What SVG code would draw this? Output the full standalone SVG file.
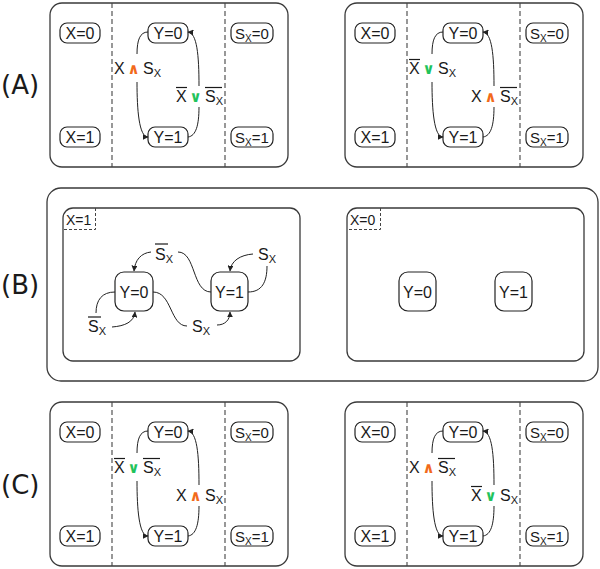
<svg xmlns="http://www.w3.org/2000/svg" width="600" height="569" viewBox="0 0 600 569">
<defs>
<style>
.frame{fill:#fff;stroke:#3a3a3a;stroke-width:1.3}
.node rect{fill:#fff;stroke:#222;stroke-width:1.2}
.t{font-family:"Liberation Sans",Arial,sans-serif;font-size:16px;fill:#1a1a1a}
.ts{font-family:"Liberation Sans",Arial,sans-serif;font-size:15px;fill:#1a1a1a}
.sub{font-size:11px}
.sub2{font-size:10px}
.dash{stroke:#444;stroke-width:1.1;stroke-dasharray:5 3;fill:none}
.dash2{stroke:#444;stroke-width:1;stroke-dasharray:3 2;fill:none}
.edge{fill:none;stroke:#222;stroke-width:1}
.ov{stroke:#1a1a1a;stroke-width:1.2}
.and{fill:#f26a1b;font-family:"DejaVu Sans",sans-serif;font-weight:bold;font-size:15px}
.or{fill:#1fc35c;font-family:"DejaVu Sans",sans-serif;font-weight:bold;font-size:15px}
.pl{font-family:"DejaVu Sans",sans-serif;font-size:26px;fill:#1a1a1a}
.lbl{font-family:"Liberation Sans",Arial,sans-serif;font-size:14px;fill:#1a1a1a}
</style>
<marker id="ah" viewBox="0 0 10 10" refX="9" refY="5" markerWidth="6" markerHeight="6" markerUnits="userSpaceOnUse" orient="auto"><path d="M0,0 L10,5 L0,10 z" fill="#222"/></marker>
</defs>
<rect width="600" height="569" fill="#fff"/>

<!-- panel labels -->
<text class="pl" x="1" y="94">(A)</text>
<text class="pl" x="1" y="294">(B)</text>
<text class="pl" x="1" y="494">(C)</text>

<!-- ===== A left ===== -->
<g id="A1">
<rect class="frame" x="50" y="3" width="238" height="164" rx="12"/>
<line class="dash" x1="112" y1="3" x2="112" y2="167"/>
<line class="dash" x1="225" y1="3" x2="225" y2="167"/>
<g id="A1-X0" class="node"><rect x="60" y="23" width="40" height="20" rx="7"/><text class="t" x="80" y="38.8" text-anchor="middle">X=0</text></g>
<g id="A1-X1" class="node"><rect x="60" y="127" width="40" height="20" rx="7"/><text class="t" x="80" y="142.8" text-anchor="middle">X=1</text></g>
<g id="A1-Y0" class="node"><rect x="148" y="23" width="40" height="20" rx="7"/><text class="t" x="168" y="38.8" text-anchor="middle">Y=0</text></g>
<g id="A1-Y1" class="node"><rect x="148" y="127" width="40" height="20" rx="7"/><text class="t" x="168" y="142.8" text-anchor="middle">Y=1</text></g>
<g id="A1-S0" class="node"><rect x="231" y="23" width="42" height="20" rx="7"/><text class="ts" x="252" y="38.5" text-anchor="middle">S<tspan class="sub2" dy="3">X</tspan><tspan dy="-3">=0</tspan></text></g>
<g id="A1-S1" class="node"><rect x="231" y="127" width="42" height="20" rx="7"/><text class="ts" x="252" y="142.5" text-anchor="middle">S<tspan class="sub2" dy="3">X</tspan><tspan dy="-3">=1</tspan></text></g>
<g id="A1-edges">
<path class="edge" d="M148,32 C140,32 137,40 137,54"/>
<path class="edge" marker-end="url(#ah)" d="M137,82 C137,110 139,137 148,137"/>
<path class="edge" d="M188,137 C196,136 199,125 199,107"/>
<path class="edge" marker-end="url(#ah)" d="M199,86 C199,55 197,33 188,32"/>
</g>
<g id="A1-L1">
<text class="t" x="114" y="74">X</text><text class="and" x="133.5" y="73.5" text-anchor="middle">∧</text><text class="t" x="143" y="74">S<tspan class="sub" dy="3">X</tspan></text>
</g>
<g id="A1-L2">
<text class="t" x="176" y="102">X</text><text class="or" x="195.5" y="101.5" text-anchor="middle">∨</text><text class="t" x="205" y="102">S<tspan class="sub" dy="3">X</tspan></text>
<line class="ov" x1="176" y1="87.5" x2="187" y2="87.5"/><line class="ov" x1="205" y1="87.5" x2="222" y2="87.5"/>
</g>
</g>

<!-- ===== A right ===== -->
<g id="A2" transform="translate(295,0)">
<rect class="frame" x="50" y="3" width="238" height="164" rx="12"/>
<line class="dash" x1="112" y1="3" x2="112" y2="167"/>
<line class="dash" x1="225" y1="3" x2="225" y2="167"/>
<g id="A2-X0" class="node"><rect x="60" y="23" width="40" height="20" rx="7"/><text class="t" x="80" y="38.8" text-anchor="middle">X=0</text></g>
<g id="A2-X1" class="node"><rect x="60" y="127" width="40" height="20" rx="7"/><text class="t" x="80" y="142.8" text-anchor="middle">X=1</text></g>
<g id="A2-Y0" class="node"><rect x="148" y="23" width="40" height="20" rx="7"/><text class="t" x="168" y="38.8" text-anchor="middle">Y=0</text></g>
<g id="A2-Y1" class="node"><rect x="148" y="127" width="40" height="20" rx="7"/><text class="t" x="168" y="142.8" text-anchor="middle">Y=1</text></g>
<g id="A2-S0" class="node"><rect x="231" y="23" width="42" height="20" rx="7"/><text class="ts" x="252" y="38.5" text-anchor="middle">S<tspan class="sub2" dy="3">X</tspan><tspan dy="-3">=0</tspan></text></g>
<g id="A2-S1" class="node"><rect x="231" y="127" width="42" height="20" rx="7"/><text class="ts" x="252" y="142.5" text-anchor="middle">S<tspan class="sub2" dy="3">X</tspan><tspan dy="-3">=1</tspan></text></g>
<g id="A2-edges">
<path class="edge" d="M148,32 C140,32 137,40 137,54"/>
<path class="edge" marker-end="url(#ah)" d="M137,82 C137,110 139,137 148,137"/>
<path class="edge" d="M188,137 C196,136 199,125 199,107"/>
<path class="edge" marker-end="url(#ah)" d="M199,86 C199,55 197,33 188,32"/>
</g>
<g id="A2-L1">
<text class="t" x="114" y="74">X</text><text class="or" x="133.5" y="73.5" text-anchor="middle">∨</text><text class="t" x="143" y="74">S<tspan class="sub" dy="3">X</tspan></text>
<line class="ov" x1="114" y1="59.5" x2="125" y2="59.5"/>
</g>
<g id="A2-L2">
<text class="t" x="176" y="102">X</text><text class="and" x="195.5" y="101.5" text-anchor="middle">∧</text><text class="t" x="205" y="102">S<tspan class="sub" dy="3">X</tspan></text>
<line class="ov" x1="205" y1="87.5" x2="222" y2="87.5"/>
</g>
</g>

<!-- ===== B ===== -->
<g id="B">
<rect class="frame" x="47" y="188" width="551" height="193" rx="14"/>
<g id="B-X1">
<rect class="frame" x="63" y="208" width="237" height="153" rx="10"/>
<path class="dash2" d="M95.5,208 V229.5 H63"/>
<text class="lbl" x="66" y="225">X=1</text>
</g>
<g id="B-X0">
<rect class="frame" x="347" y="208" width="237" height="153" rx="10"/>
<path class="dash2" d="M380.5,208 V229.5 H347"/>
<text class="lbl" x="350" y="225">X=0</text>
</g>
<g id="B1-Y0" class="node"><rect x="115" y="272" width="38" height="39" rx="9"/><text class="t" x="134" y="297.5" text-anchor="middle">Y=0</text></g>
<g id="B1-Y1" class="node"><rect x="211" y="272" width="37" height="39" rx="9"/><text class="t" x="229.5" y="297.5" text-anchor="middle">Y=1</text></g>
<g id="B2-Y0" class="node"><rect x="399" y="272" width="37" height="39" rx="9"/><text class="t" x="417.5" y="297.5" text-anchor="middle">Y=0</text></g>
<g id="B2-Y1" class="node"><rect x="495" y="272" width="37" height="39" rx="9"/><text class="t" x="513.5" y="297.5" text-anchor="middle">Y=1</text></g>
<g id="B-edges">
<path class="edge" marker-end="url(#ah)" d="M151,252 C141,253 135,260 134,271"/>
<path class="edge" d="M178,252 C196,252 192,292 211,292"/>
<path class="edge" marker-end="url(#ah)" d="M253,254 C240,255 231,261 230,271"/>
<path class="edge" d="M248,292 C262,292 267,282 267,266"/>
<path class="edge" d="M115,292 C102,292 96,300 96,313"/>
<path class="edge" marker-end="url(#ah)" d="M112,327 C125,326 134,322 135,312"/>
<path class="edge" d="M153,292 C172,292 170,326 187,326"/>
<path class="edge" marker-end="url(#ah)" d="M217,325 C225,325 230,320 230,312"/>
</g>
<g id="B-labels">
<text class="t" x="155" y="260">S<tspan class="sub" dy="3">X</tspan></text><line class="ov" x1="155" y1="244" x2="168" y2="244"/>
<text class="t" x="258" y="260">S<tspan class="sub" dy="3">X</tspan></text>
<text class="t" x="88" y="332">S<tspan class="sub" dy="3">X</tspan></text><line class="ov" x1="88" y1="317" x2="101" y2="317"/>
<text class="t" x="192" y="332">S<tspan class="sub" dy="3">X</tspan></text>
</g>
</g>

<!-- ===== C left ===== -->
<g id="C1" transform="translate(0,399)">
<rect class="frame" x="50" y="3" width="238" height="164" rx="12"/>
<line class="dash" x1="112" y1="3" x2="112" y2="167"/>
<line class="dash" x1="225" y1="3" x2="225" y2="167"/>
<g id="C1-X0" class="node"><rect x="60" y="23" width="40" height="20" rx="7"/><text class="t" x="80" y="38.8" text-anchor="middle">X=0</text></g>
<g id="C1-X1" class="node"><rect x="60" y="127" width="40" height="20" rx="7"/><text class="t" x="80" y="142.8" text-anchor="middle">X=1</text></g>
<g id="C1-Y0" class="node"><rect x="148" y="23" width="40" height="20" rx="7"/><text class="t" x="168" y="38.8" text-anchor="middle">Y=0</text></g>
<g id="C1-Y1" class="node"><rect x="148" y="127" width="40" height="20" rx="7"/><text class="t" x="168" y="142.8" text-anchor="middle">Y=1</text></g>
<g id="C1-S0" class="node"><rect x="231" y="23" width="42" height="20" rx="7"/><text class="ts" x="252" y="38.5" text-anchor="middle">S<tspan class="sub2" dy="3">X</tspan><tspan dy="-3">=0</tspan></text></g>
<g id="C1-S1" class="node"><rect x="231" y="127" width="42" height="20" rx="7"/><text class="ts" x="252" y="142.5" text-anchor="middle">S<tspan class="sub2" dy="3">X</tspan><tspan dy="-3">=1</tspan></text></g>
<g id="C1-edges">
<path class="edge" d="M148,32 C140,32 137,40 137,54"/>
<path class="edge" marker-end="url(#ah)" d="M137,82 C137,110 139,137 148,137"/>
<path class="edge" d="M188,137 C196,136 199,125 199,107"/>
<path class="edge" marker-end="url(#ah)" d="M199,86 C199,55 197,33 188,32"/>
</g>
<g id="C1-L1">
<text class="t" x="114" y="74">X</text><text class="or" x="133.5" y="73.5" text-anchor="middle">∨</text><text class="t" x="143" y="74">S<tspan class="sub" dy="3">X</tspan></text>
<line class="ov" x1="114" y1="59.5" x2="125" y2="59.5"/><line class="ov" x1="143" y1="59.5" x2="160" y2="59.5"/>
</g>
<g id="C1-L2">
<text class="t" x="176" y="102">X</text><text class="and" x="195.5" y="101.5" text-anchor="middle">∧</text><text class="t" x="205" y="102">S<tspan class="sub" dy="3">X</tspan></text>
</g>
</g>

<!-- ===== C right ===== -->
<g id="C2" transform="translate(295,399)">
<rect class="frame" x="50" y="3" width="238" height="164" rx="12"/>
<line class="dash" x1="112" y1="3" x2="112" y2="167"/>
<line class="dash" x1="225" y1="3" x2="225" y2="167"/>
<g id="C2-X0" class="node"><rect x="60" y="23" width="40" height="20" rx="7"/><text class="t" x="80" y="38.8" text-anchor="middle">X=0</text></g>
<g id="C2-X1" class="node"><rect x="60" y="127" width="40" height="20" rx="7"/><text class="t" x="80" y="142.8" text-anchor="middle">X=1</text></g>
<g id="C2-Y0" class="node"><rect x="148" y="23" width="40" height="20" rx="7"/><text class="t" x="168" y="38.8" text-anchor="middle">Y=0</text></g>
<g id="C2-Y1" class="node"><rect x="148" y="127" width="40" height="20" rx="7"/><text class="t" x="168" y="142.8" text-anchor="middle">Y=1</text></g>
<g id="C2-S0" class="node"><rect x="231" y="23" width="42" height="20" rx="7"/><text class="ts" x="252" y="38.5" text-anchor="middle">S<tspan class="sub2" dy="3">X</tspan><tspan dy="-3">=0</tspan></text></g>
<g id="C2-S1" class="node"><rect x="231" y="127" width="42" height="20" rx="7"/><text class="ts" x="252" y="142.5" text-anchor="middle">S<tspan class="sub2" dy="3">X</tspan><tspan dy="-3">=1</tspan></text></g>
<g id="C2-edges">
<path class="edge" d="M148,32 C140,32 137,40 137,54"/>
<path class="edge" marker-end="url(#ah)" d="M137,82 C137,110 139,137 148,137"/>
<path class="edge" d="M188,137 C196,136 199,125 199,107"/>
<path class="edge" marker-end="url(#ah)" d="M199,86 C199,55 197,33 188,32"/>
</g>
<g id="C2-L1">
<text class="t" x="114" y="74">X</text><text class="and" x="133.5" y="73.5" text-anchor="middle">∧</text><text class="t" x="143" y="74">S<tspan class="sub" dy="3">X</tspan></text>
<line class="ov" x1="143" y1="59.5" x2="160" y2="59.5"/>
</g>
<g id="C2-L2">
<text class="t" x="176" y="102">X</text><text class="or" x="195.5" y="101.5" text-anchor="middle">∨</text><text class="t" x="205" y="102">S<tspan class="sub" dy="3">X</tspan></text>
<line class="ov" x1="176" y1="87.5" x2="187" y2="87.5"/>
</g>
</g>
</svg>
